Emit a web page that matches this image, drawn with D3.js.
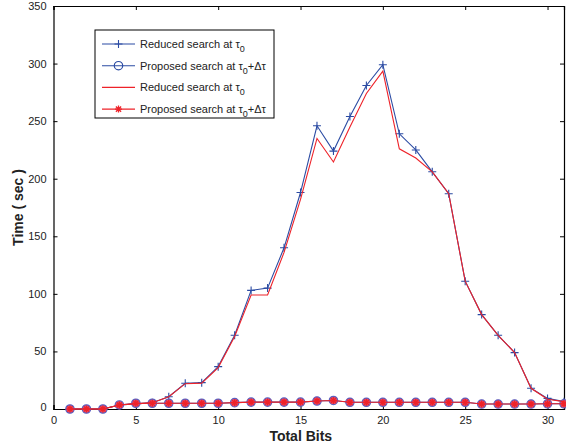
<!DOCTYPE html>
<html><head><meta charset="utf-8">
<script src="https://cdn.jsdelivr.net/npm/d3@7"></script>
<style>body{margin:0;background:#fff;}svg{display:block;font-family:"Liberation Sans",Arial,sans-serif;}</style>
</head><body><svg id="c" width="566" height="447"></svg>
<script>
const bits = [1,2,3,4,5,6,7,8,9,10,11,12,13,14,15,16,17,18,19,20,21,22,23,24,25,26,27,28,29,30,31];
const reducedBlue = [0,0,0,3.5,4.3,5.5,10.7,22.3,22.9,36.8,64,103,105,140,188,246,224,254,281,299,239,225,206,187,111,82,64,49,18,9.2,6.4];
const proposedBlue = [0,0,0,3.5,5,5,5,5,5,5,5.5,6,6,6,6,6.9,7.4,5.8,5.8,5.8,5.8,5.8,5.8,5.8,5.8,4.3,4.3,4.3,4.3,4.5,4.5];
const reducedRed = [0,0,0,3.5,4.3,5.5,10.7,22,22.5,36,63,99,99,136,182,235,214.5,245,274,293.5,226,218,206,187,111,82,64,49,18,8.5,6.4];
const proposedRed = [0,0,0,3.5,5,5,5,5,5,5,5.5,6,6,6,6,6.9,7.4,5.8,5.8,5.8,5.8,5.8,5.8,5.8,5.8,4.3,4.3,4.3,4.3,4.5,4.5];
const xTicks = [0,5,10,15,20,25,30];
const yTicks = [0,50,100,150,200,250,300,350];
const legendLabels = ["Reduced search at τ0","Proposed search at τ0+Δτ","Reduced search at τ0","Proposed search at τ0+Δτ"];

const BLUE = "#2b4ba3", RED = "#ee2229";
const svg = d3.select("#c");
const L = 53.5, R = 564, T = 6, B = 409;
const x = d3.scaleLinear().domain([0,31]).range([L,R]);
const y = d3.scaleLinear().domain([0,350]).range([B,T]);

const gx = svg.append("g").attr("transform",`translate(0,${B})`)
  .call(d3.axisBottom(x).tickValues(xTicks).tickSize(-4).tickPadding(7).tickFormat(d3.format("d")));
const gxt = svg.append("g").attr("transform",`translate(0,${T})`)
  .call(d3.axisTop(x).tickValues(xTicks).tickSize(-4).tickFormat(""));
const gy = svg.append("g").attr("transform",`translate(${L},0)`)
  .call(d3.axisLeft(y).tickValues(yTicks).tickSize(-4).tickPadding(7));
const gyr = svg.append("g").attr("transform",`translate(${R},0)`)
  .call(d3.axisRight(y).tickValues(yTicks).tickSize(-4).tickFormat(""));
[gx,gxt,gy,gyr].forEach(g=>{
  g.select(".domain").attr("stroke","#000").attr("stroke-width",1.2);
  g.selectAll(".tick line").attr("stroke","#000");
  g.selectAll("text").attr("font-size",11).attr("fill","#222").attr("font-family","Liberation Sans, Arial, sans-serif");
});
gy.selectAll(".tick").filter(d=>d===0).select("text").attr("dy","0.1em");

svg.append("text").attr("x",(L+R)/2-8).attr("y",441).attr("text-anchor","middle")
  .attr("font-size",14).attr("font-weight","bold").attr("fill","#222").text("Total Bits");
svg.append("text").attr("transform",`translate(23,${(T+B)/2}) rotate(-90)`).attr("text-anchor","middle")
  .attr("font-size",14).attr("font-weight","bold").attr("fill","#222").text("Time ( sec )");

const line = d3.line().x((d,i)=>x(bits[i])).y(d=>y(d));
const plot = svg.append("g");
function plus(g,cx,cy,col){ g.append("path").attr("d",`M${cx-4},${cy}H${cx+4}M${cx},${cy-4}V${cy+4}`).attr("stroke",col).attr("stroke-width",1.1).attr("fill","none"); }
function star(g,cx,cy,col){ g.append("path").attr("d",`M${cx-3.5},${cy}H${cx+3.5}M${cx},${cy-3.5}V${cy+3.5}M${cx-2.6},${cy-2.6}L${cx+2.6},${cy+2.6}M${cx-2.6},${cy+2.6}L${cx+2.6},${cy-2.6}`).attr("stroke",col).attr("stroke-width",1.3).attr("fill","none"); }
function circ(g,cx,cy,col,fill){ g.append("circle").attr("cx",cx).attr("cy",cy).attr("r",4.2).attr("stroke",col).attr("stroke-width",1.2).attr("fill",fill||"none"); }

plot.append("path").datum(reducedBlue).attr("d",line).attr("fill","none").attr("stroke",BLUE).attr("stroke-width",1.1);
reducedBlue.forEach((v,i)=>plus(plot,x(bits[i]),y(v),BLUE));
plot.append("path").datum(proposedBlue).attr("d",line).attr("fill","none").attr("stroke",BLUE).attr("stroke-width",1.1);
proposedBlue.forEach((v,i)=>circ(plot,x(bits[i]),y(v),"#5a5fc0","#e4506a"));
plot.append("path").datum(reducedRed).attr("d",line).attr("fill","none").attr("stroke",RED).attr("stroke-width",1.1);
plot.append("path").datum(proposedRed).attr("d",line).attr("fill","none").attr("stroke",RED).attr("stroke-width",1.1);
proposedRed.forEach((v,i)=>star(plot,x(bits[i]),y(v),RED));

const lg = svg.append("g");
lg.append("rect").attr("x",95).attr("y",30).attr("width",179).attr("height",88).attr("fill","#fff").attr("stroke","#000").attr("stroke-width",1);
const cols = [BLUE,BLUE,RED,RED];
const marks = [plus,circ,null,star];
legendLabels.forEach((lab,i)=>{
  const yy = 44 + i*21.7;
  lg.append("line").attr("x1",102).attr("x2",135).attr("y1",yy).attr("y2",yy).attr("stroke",cols[i]).attr("stroke-width",1.1);
  if(marks[i]) marks[i](lg,118.5,yy,cols[i]);
  const t = lg.append("text").attr("x",140).attr("y",yy+4).attr("font-size",11).attr("fill","#222");
  const parts = lab.split("τ0");
  t.append("tspan").text(parts[0]+"τ");
  t.append("tspan").attr("dy",4).attr("font-size",9).text("0");
  if(parts[1]) t.append("tspan").attr("dy",-4).text(parts[1]);
});
</script></body></html>
